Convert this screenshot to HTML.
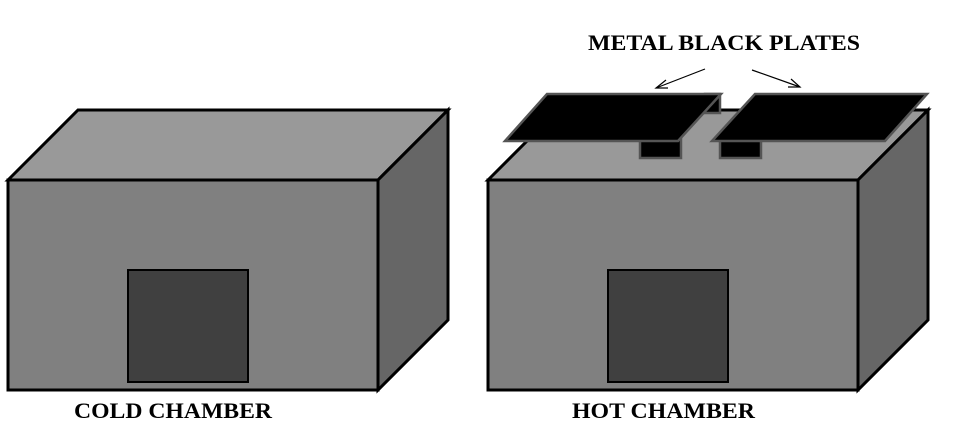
<!DOCTYPE html>
<html><head><style>body{margin:0;background:#fff}svg{display:block}</style></head><body>
<svg width="960" height="439" xmlns="http://www.w3.org/2000/svg" font-family="Liberation Serif, serif">
<g stroke="#000" stroke-width="3" stroke-linejoin="miter">
<polygon points="8,180 78,110 448,110 378,180" fill="#999"/>
<polygon points="378,180 448,110 448,320 378,390" fill="#666"/>
<rect x="8" y="180" width="370" height="210" fill="#808080"/>
<rect x="128" y="270" width="120" height="112" fill="#404040" stroke-width="2"/>
<polygon points="488,180 558,110 928,110 858,180" fill="#999"/>
<polygon points="858,180 928,110 928,320 858,390" fill="#666"/>
<rect x="488" y="180" width="370" height="210" fill="#808080"/>
<rect x="608" y="270" width="120" height="112" fill="#404040" stroke-width="2"/>
</g>
<g fill="#000" stroke="#555" stroke-width="2.5">
<rect x="705" y="94" width="15" height="19"/>
<rect x="640" y="138" width="41" height="20"/>
<rect x="720" y="138" width="41" height="20"/>
<polygon points="547,94 721,94 678,141 505,141"/>
<polygon points="755,94 927,94 885,141 712,141"/>
</g>
<g stroke="#000" stroke-width="1.2" fill="none">
<line x1="705" y1="69" x2="656" y2="88"/><polyline points="666,80 656,88 668,88"/>
<line x1="752" y1="70" x2="800" y2="87"/><polyline points="788,87 800,87 791,79"/>
</g>
<g font-size="22" font-weight="bold" fill="#000">
<text x="588" y="50" textLength="272" lengthAdjust="spacingAndGlyphs">METAL BLACK PLATES</text>
<text x="74" y="418" textLength="198" lengthAdjust="spacingAndGlyphs">COLD CHAMBER</text>
<text x="572" y="418" textLength="183" lengthAdjust="spacingAndGlyphs">HOT CHAMBER</text>
</g>
</svg>
</body></html>
